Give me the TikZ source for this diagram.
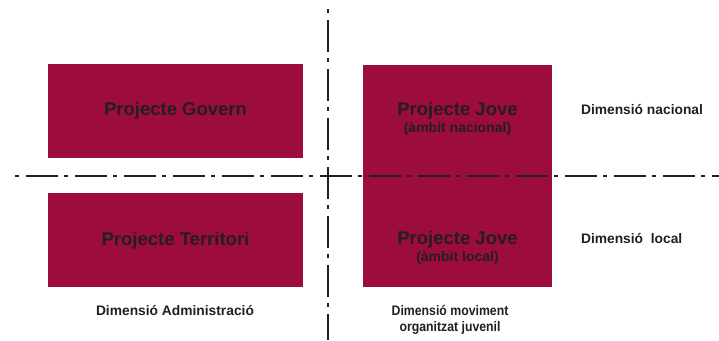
\documentclass[tikz,border=0pt]{standalone}
\usepackage{fontspec}
\setmainfont{Liberation Sans}
\newfontfamily\condsans[FakeStretch=0.89]{Liberation Sans}
\definecolor{projred}{HTML}{9C0C3F}
\definecolor{projtext}{HTML}{231F20}
\tikzset{
    projbox/.style={fill=projred, draw=none, inner sep=0pt},
    projtitle/.style={anchor=base, text=projtext, font=\bfseries\fontsize{18.5}{20}\selectfont},
    projsub/.style={anchor=base, text=projtext, font=\bfseries\fontsize{14}{16}\selectfont},
    dimlabel/.style={anchor=base, text=projtext, font=\bfseries\fontsize{13.8}{16}\selectfont},
    dimcond/.style={dimlabel, font=\condsans\bfseries\fontsize{13.8}{16}\selectfont},
    axisline/.style={line width=1.2pt, projtext, dash pattern=on 4pt off 7pt on 32pt off 6pt}
}
\begin{document}
\begin{tikzpicture}[x=1pt, y=-1pt]
        \useasboundingbox (0,0) rectangle (719,340);
        % Boxes
        \node[projbox, minimum width=255pt, minimum height=94pt] (govern) at (175.5,111) {};
        \node[projbox, minimum width=255pt, minimum height=94pt] (territori) at (175.5,240) {};
        \node[projbox, minimum width=189pt, minimum height=222pt] (jove) at (457.5,176) {};
        % Titles inside the boxes
        \node[projtitle] (governtxt) at (175.5,115.5) {Projecte Govern};
        \node[projtitle] (territoritxt) at (175.5,245) {Projecte Territori};
        \node[projtitle] (jovenac) at (457.5,115) {Projecte Jove};
        \node[projsub] (jovenacsub) at (457.5,132) {(àmbit nacional)};
        \node[projtitle] (joveloc) at (457.5,244.5) {Projecte Jove};
        \node[projsub] (jovelocsub) at (457.5,261) {(àmbit local)};
        % Dimension labels
        \node[dimlabel, anchor=base west] (dimnac) at (577.5,114) {Dimensió nacional};
        \node[dimlabel, anchor=base west] (dimloc) at (577.5,243) {Dimensió\ \ local};
        \node[dimlabel] (dimadm) at (175,315) {Dimensió Administració};
        \node[dimcond] (dimmov) at (450,315) {Dimensió moviment};
        \node[dimcond] (dimjuv) at (450,331.5) {organitzat juvenil};
        % Axes
        \coordinate (hleft) at (15,176);
        \coordinate (hright) at (719,176);
        \coordinate (vtop) at (328,9);
        \coordinate (vbottom) at (328,340);
        \draw[axisline] (hleft) -- (hright);
        \draw[axisline] (vtop) -- (vbottom);
    \end{tikzpicture}
\end{document}
